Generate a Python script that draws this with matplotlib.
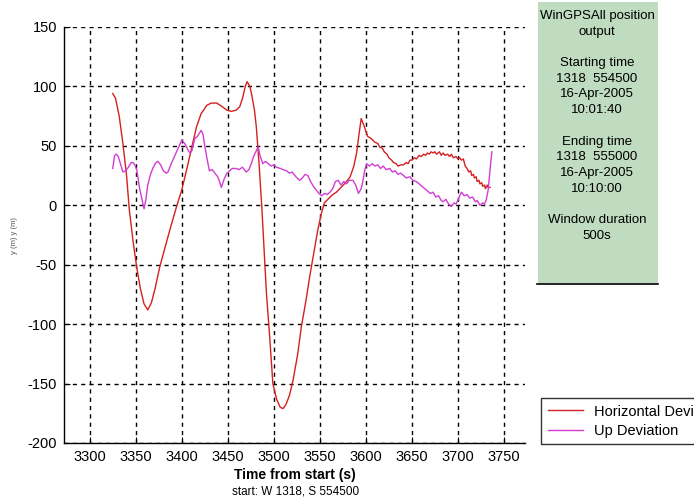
import matplotlib
matplotlib.use("Agg")
import matplotlib.pyplot as plt
from matplotlib.patches import Rectangle
from matplotlib.lines import Line2D

plt.rcParams["font.family"] = ["Liberation Sans", "DejaVu Sans"]
plt.rcParams["axes.unicode_minus"] = False

# Horizontal deviation (red)
t_horiz = [3325, 3328, 3332, 3336, 3340, 3343, 3347, 3351, 3355, 3359, 3363, 3367,
           3371, 3376, 3382, 3388, 3394, 3400, 3405, 3410, 3416, 3421, 3427, 3432,
           3438, 3444, 3449, 3454, 3459, 3463, 3466, 3469, 3471, 3474, 3476, 3479,
           3481, 3484, 3487, 3490, 3492, 3495, 3497, 3499, 3503, 3507, 3510, 3513,
           3517, 3521, 3526, 3530, 3535, 3539, 3544, 3548, 3552, 3555, 3560, 3564,
           3568, 3573, 3578, 3583, 3587, 3590, 3593, 3595, 3598, 3602, 3606, 3610,
           3613, 3615, 3618, 3620, 3623, 3625, 3628, 3630, 3633, 3635, 3638, 3641,
           3644, 3646, 3648, 3650, 3653, 3655, 3658, 3660, 3663, 3665, 3667, 3669,
           3671, 3673, 3675, 3677, 3680, 3682, 3684, 3686, 3689, 3691, 3693, 3695,
           3698, 3700, 3702, 3704, 3706, 3708, 3710, 3712, 3714, 3715, 3717, 3718,
           3720, 3721, 3723, 3724, 3726, 3727, 3729, 3730, 3732, 3733, 3735]
horiz_dev = [94, 90, 75, 52, 25, -4, -30, -52, -70, -83, -88, -82,
             -70, -52, -35, -18, -2, 13, 29, 46, 66, 77, 84, 86,
             86, 83, 80, 79, 80, 83, 90, 100, 104, 100, 93, 80,
             66, 35, -2, -45, -74, -105, -128, -150, -163, -170, -171, -168,
             -160, -147, -125, -102, -80, -60, -38, -20, -6, 2, 6, 9,
             11, 15, 19, 24, 33, 44, 62, 73, 67, 58, 56, 53,
             52, 49, 48, 45, 43, 40, 38, 36, 35, 33, 34, 34,
             36, 35, 38, 38, 40, 39, 42, 41, 43, 42, 44, 43,
             45, 44, 45, 43, 45, 42, 44, 42, 43, 41, 43, 40,
             41, 39, 40, 38, 39, 33, 31, 28, 29, 25, 26, 23,
             24, 20, 21, 18, 19, 16, 17, 14, 17, 15, 15]

# Up deviation (magenta)
t_up = [3325, 3327, 3329, 3331, 3334, 3336, 3339, 3342, 3345, 3347, 3349, 3351,
        3354, 3357, 3359, 3361, 3363, 3366, 3369, 3372, 3374, 3377, 3380, 3383,
        3385, 3388, 3392, 3396, 3400, 3402, 3404, 3407, 3409, 3411, 3414, 3417,
        3421, 3423, 3425, 3427, 3430, 3433, 3436, 3439, 3441, 3443, 3446, 3449,
        3452, 3455, 3459, 3462, 3466, 3470, 3473, 3476, 3478, 3481, 3483, 3485,
        3488, 3491, 3494, 3497, 3500, 3503, 3507, 3510, 3514, 3517, 3520, 3524,
        3528, 3531, 3534, 3537, 3540, 3543, 3546, 3549, 3552, 3555, 3558, 3561,
        3564, 3567, 3570, 3573, 3576, 3579, 3582, 3586, 3589, 3592, 3595, 3597,
        3599, 3601, 3604, 3607, 3610, 3613, 3616, 3619, 3622, 3626, 3629, 3632,
        3635, 3638, 3641, 3644, 3648, 3651, 3655, 3658, 3661, 3664, 3667, 3670,
        3673, 3676, 3679, 3682, 3684, 3687, 3690, 3693, 3696, 3698, 3700, 3702,
        3704, 3707, 3710, 3713, 3716, 3719, 3721, 3724, 3727, 3729, 3731, 3733,
        3735, 3737]
up_dev = [31, 42, 43, 41, 33, 28, 29, 32, 36, 36, 34, 30,
          15, 4, -3, 5, 17, 26, 32, 36, 37, 34, 29, 27,
          28, 34, 41, 48, 55, 53, 51, 46, 44, 46, 56, 58,
          63, 60, 50, 41, 29, 30, 27, 24, 20, 15, 22, 27,
          29, 31, 31, 30, 32, 28, 30, 36, 41, 46, 49, 42,
          35, 37, 35, 33, 34, 32, 31, 30, 29, 27, 28, 24,
          21, 23, 26, 25, 20, 16, 13, 10, 8, 10, 9, 11,
          14, 20, 21, 17, 20, 18, 21, 21, 17, 10, 14, 21,
          30, 35, 33, 35, 33, 34, 31, 33, 30, 31, 28, 29,
          26, 27, 25, 23, 24, 21, 20, 18, 16, 14, 12, 10,
          11, 7, 8, 4, 3, 5, 1, -1, 2, 1, 4, 8,
          11, 8, 9, 6, 7, 3, 4, 0, 2, 1, 5, 13,
          30, 45]

x_ticks = [3300, 3350, 3400, 3450, 3500, 3550, 3600, 3650, 3700, 3750]
y_ticks = [-200, -150, -100, -50, 0, 50, 100, 150]

info_lines = ["WinGPSAll position", "output", "",
              "Starting time", "1318  554500", "16-Apr-2005", "10:01:40", "",
              "Ending time", "1318  555000", "16-Apr-2005", "10:10:00", "",
              "Window duration", "500s"]

W, H = 694, 504
fig = plt.figure(figsize=(W / 100, H / 100), dpi=100)
ax = fig.add_axes([64 / W, 1 - 443 / H, (525 - 64) / W, (443 - 27) / H])

red = "#d42020"
mag = "#d23cd2"
ax.plot(t_horiz, horiz_dev, color=red, lw=1.0, label="Horizontal Deviation")
ax.plot(t_up, up_dev, color=mag, lw=1.0, label="Up Deviation")

ax.set_xlim(3272, 3773)
ax.set_ylim(-200, 150)
ax.set_xticks(x_ticks)
ax.set_yticks(y_ticks)
ax.grid(True, color="black", linestyle=(0, (3, 3)), linewidth=1.0)
ax.tick_params(direction="in", length=4, labelsize=10.5, colors="black", pad=5)
for side in ["top", "right"]:
    ax.spines[side].set_visible(False)
for side in ["left", "bottom"]:
    ax.spines[side].set_linewidth(1.0)

ax.set_xlabel("Time from start (s)", fontsize=10, fontweight="bold", labelpad=3)
fig.text(296 / W, 1 - 492 / H, "start: W 1318, S 554500", fontsize=8.5,
         ha="center", va="center")
fig.text(14 / W, 1 - 236 / H, "y (m) y (m)", fontsize=5.5, color="#555555",
         rotation=90, ha="center", va="center")

# info panel
fig.patches.append(Rectangle((538 / W, 1 - 283 / H), 120 / W, 281 / H,
                             transform=fig.transFigure, facecolor="#c0dcc0",
                             edgecolor="none"))
fig.lines.append(Line2D([537 / W, 658 / W], [1 - 284 / H, 1 - 284 / H],
                        transform=fig.transFigure, color="black", lw=1.2))
for i, line in enumerate(info_lines):
    if line:
        fig.text(597 / W, 1 - (16 + i * 15.7) / H, line, fontsize=9.5,
                 ha="center", va="center")

leg = fig.legend(loc="upper left", bbox_to_anchor=(541 / W, 1 - 398 / H),
                 fontsize=10.5, frameon=True, fancybox=False, borderpad=0.45,
                 handlelength=2.4, handletextpad=0.8, labelspacing=0.35,
                 borderaxespad=0)
leg.get_frame().set_edgecolor("black")
leg.get_frame().set_linewidth(1.0)

fig.savefig("out.png", dpi=100)
